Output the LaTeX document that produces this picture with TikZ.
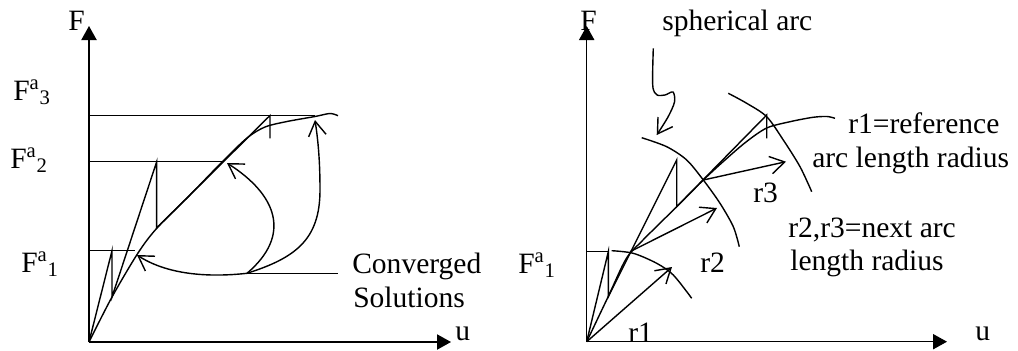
\documentclass[tikz,border=0pt]{standalone}
\usepackage{fontspec}
\setmainfont{Liberation Serif}
\usetikzlibrary{arrows.meta}
\tikzset{
  ax/.style   = {line width=1pt, -{Triangle[length=3.5mm,width=3.8mm]}},
  ln/.style   = {line width=1pt},
  barb/.style = {line width=1pt, -{Straight Barb[length=3.6mm,width=4.4mm]}},
  lbl/.style  = {anchor=base west, inner sep=0pt,
                 font=\fontsize{21}{25}\selectfont},
}

\begin{document}
\begin{tikzpicture}[x=0.025cm, y=-0.025cm]
  \useasboundingbox (0,0) rectangle (1018,350);

  % left panel: load steps
  \coordinate (o1) at (89,342);
  \coordinate (cs) at (247,273.3);
  \draw[ax] (o1) -- (89,26);
  \draw[ax] (o1) -- (451,342);
  \node[lbl] (fl) at (68,30) {F};
  \node[lbl] (ul) at (455,340) {u};
  \node[lbl] (f3) at (13,100) {F\textsuperscript{a}\textsubscript{3}};
  \node[lbl] (f2) at (10,168) {F\textsuperscript{a}\textsubscript{2}};
  \node[lbl] (f1) at (21,272) {F\textsuperscript{a}\textsubscript{1}};

  \draw[ln] (89,250.7) -- (135,250.7);
  \draw[ln] (89,161.7) -- (222,161.7);
  \draw[ln] (89,115.5) -- (315,115.5);
  \draw[ln] plot[smooth] coordinates {(89,342) (112,297) (138,253) (157,228)
        (190,195) (222,162) (247,138) (265,127) (287,121.5) (315,116.5)
        (330,113.5) (338,115.7)};
  \draw[ln] (o1) -- (112,250.7) -- (112,297) -- (156.7,161.7) -- (156.7,228)
        -- (270,115.5) -- (270,138.3);

  \draw[ln] (cs) -- (338,273.3);
  \draw[barb] (cs) .. controls (195,279) and (160,270) .. (137,255);
  \draw[barb] (cs) .. controls (292,235) and (277,195) .. (227,163);
  \draw[barb] (cs) .. controls (295,258) and (320,240) .. (320,190)
        .. controls (320,160) and (318,140) .. (315,120);
  \node[lbl] (cv) at (352,273) {Converged};
  \node[lbl] (sl) at (353,307) {Solutions};

  % right panel: arc length
  \coordinate (o2) at (586.7,341.7);
  \coordinate (p1) at (630,251.7);
  \coordinate (p2) at (703.3,180);
  \draw[ax] (o2) -- (586.7,26);
  \draw[ax] (o2) -- (947,341.7);
  \node[lbl] (fr) at (580,30) {F};
  \node[lbl] (ur) at (975,340) {u};
  \node[lbl] (f1r) at (518,273) {F\textsuperscript{a}\textsubscript{1}};

  \draw[ln] (586.7,251.7) -- (608.3,251.7);
  \draw[ln] plot[smooth] coordinates {(586.7,341.7) (608,297) (626,259)
        (642,241) (676.7,206.7) (703.3,180) (725,160) (746,142) (766.7,128)
        (790,121.7) (813,117.3) (827,116.5) (835,118.3)};
  \draw[ln] (o2) -- (608.3,251.7) -- (608.3,296.7) -- (676.7,160)
        -- (676.7,206.7) -- (766.7,115) -- (766.7,138.3);

  \draw[ln] plot[smooth] coordinates {(611.7,250.7) (633.3,253.3)
        (656.7,263.3) (673.3,275) (691.7,298.3)};
  \draw[ln] plot[smooth] coordinates {(641.7,137.7) (666.7,146.7)
        (686.7,160) (703.3,180) (720,203.3) (733.3,226.7) (739.3,246.7)};
  \draw[ln] plot[smooth] coordinates {(728.3,93.3) (746.7,103.3)
        (766.7,116.7) (783.3,140) (800,166.7) (811.7,191.7)};

  \draw[barb] (o2) -- (672,267);
  \draw[barb] (p1) -- (717,208);
  \draw[barb] (p2) -- (786,161.7);
  \node[lbl] (r1) at (628,342) {r1};
  \node[lbl] (r2) at (700,272) {r2};
  \node[lbl] (r3) at (753,202) {r3};

  \node[lbl] (sa) at (662,30) {spherical arc};
  \draw[barb] plot[smooth] coordinates {(653.3,48.3) (652.7,70) (653,88)
        (657,95) (665,95) (673,92) (674.5,102) (668,117) (656.7,135)};
  \node[lbl] (rr) at (848,133) {r1=reference};
  \node[lbl] (rr2) at (812,167) {arc length radius};
  \node[lbl] (nx) at (788,237) {r2,r3=next arc};
  \node[lbl] (nx2) at (790,270) {length radius};
\end{tikzpicture}
\end{document}
